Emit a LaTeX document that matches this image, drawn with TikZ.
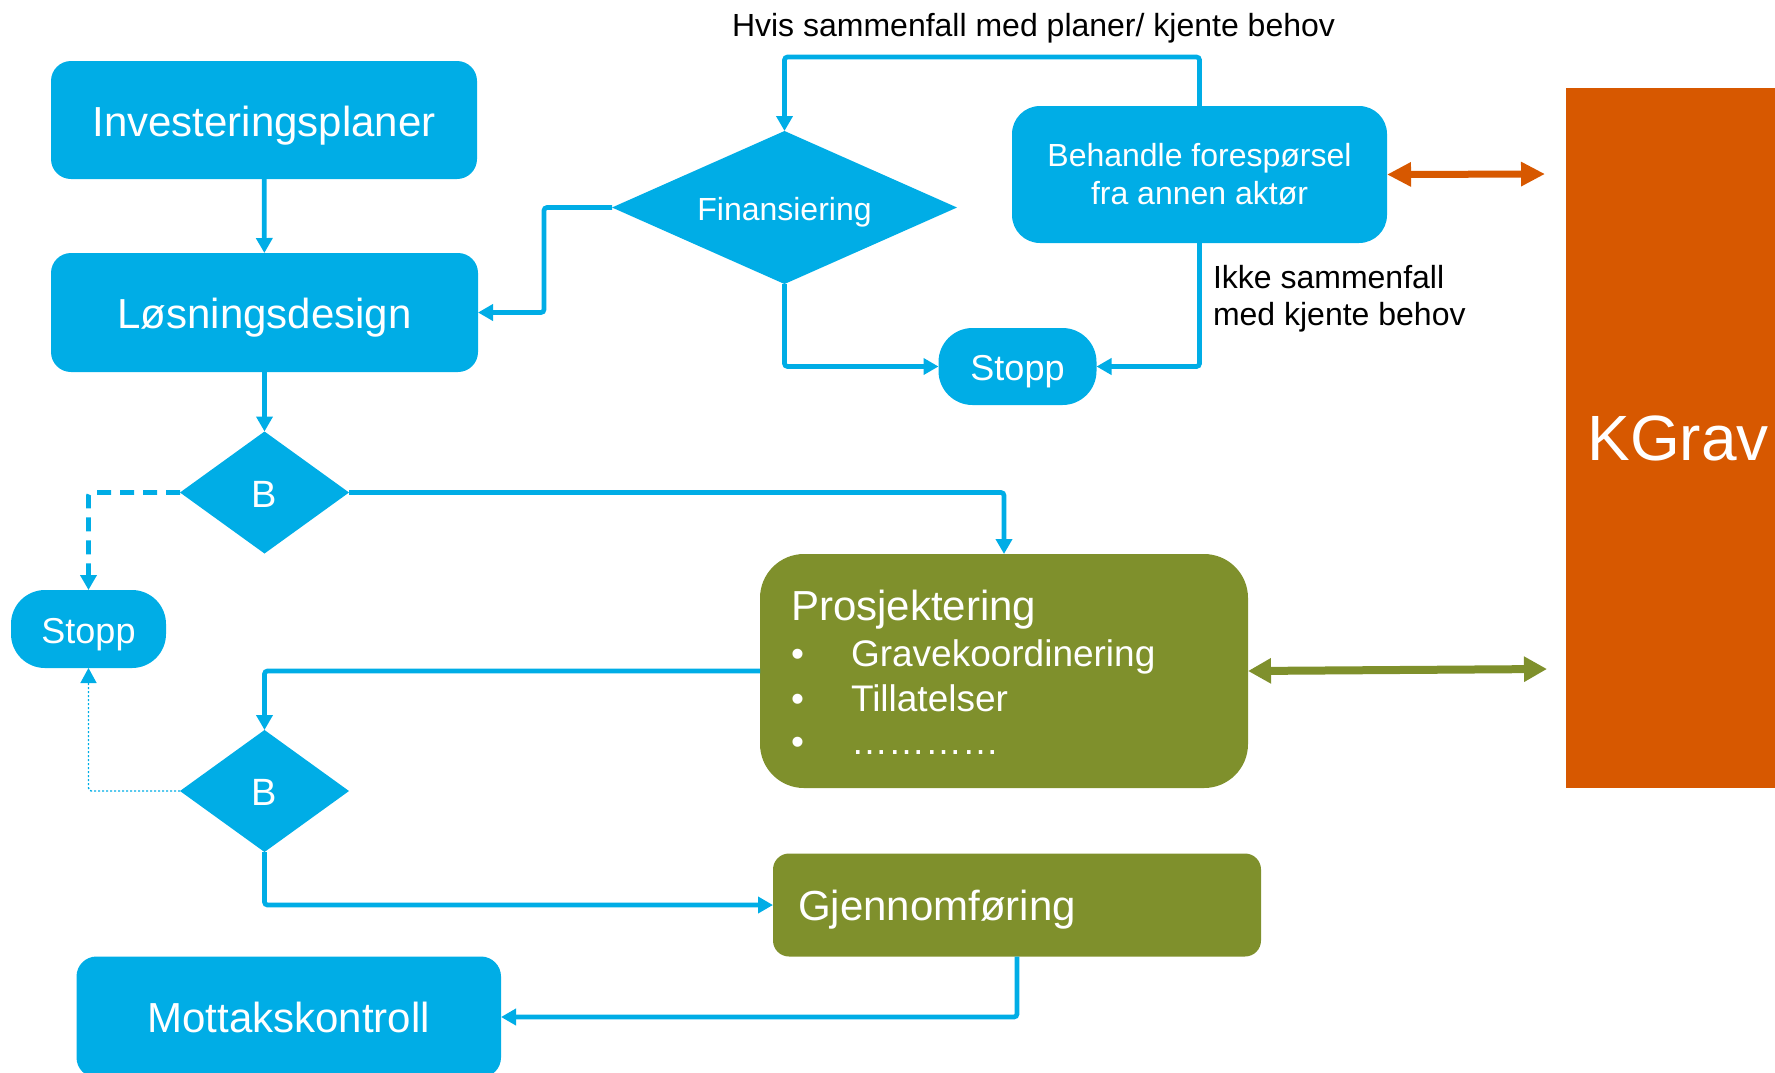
\documentclass[tikz,border=0pt]{standalone}
\usepackage{fontspec}
\setmainfont{Liberation Sans}
\usetikzlibrary{shapes.geometric,arrows.meta}
\definecolor{kblue}{RGB}{0,173,230}
\definecolor{kgreen}{RGB}{127,144,44}
\definecolor{korange}{RGB}{215,88,0}
\begin{document}
\begin{tikzpicture}[x=0.5pt,y=-0.5pt,
  every node/.style={inner sep=0pt, outer sep=0pt},
  bbox/.style={fill=kblue, text=white, align=center},
  gbox/.style={fill=kgreen, text=white},
  dia/.style={diamond, fill=kblue, text=white, inner sep=0pt},
  term/.style={fill=kblue, text=white, rounded corners=17pt, minimum width=79pt, minimum height=38.5pt, font=\fontsize{18pt}{21pt}\selectfont, text height=14pt, text depth=0pt},
  big/.style={font=\fontsize{21pt}{25pt}\selectfont},
  mid/.style={font=\fontsize{16pt}{19pt}\selectfont},
  item/.style={font=\fontsize{18.5pt}{22pt}\selectfont, text=white, anchor=base west},
  conn/.style={draw=kblue, line width=2.35pt, rounded corners=1.5pt, -{Triangle[length=7.5pt,width=8pt]}},
  dconn/.style={conn, dash pattern=on 7pt off 4.5pt},
  tconn/.style={conn, line width=0.7pt, dash pattern=on 1pt off 1pt},
  oarrow/.style={draw=korange, line width=3.5pt, {Triangle[length=12pt,width=11.5pt]}-{Triangle[length=12pt,width=11.5pt]}},
  garrow/.style={draw=kgreen, line width=4pt, {Triangle[length=11.5pt,width=12pt]}-{Triangle[length=11.5pt,width=12pt]}}
]
\useasboundingbox (0,0) rectangle (1775,1072);
\clip (0,0) rectangle (1775,1072);

% boxes
\node[bbox, big, rounded corners=10pt, minimum width=213pt, minimum height=59pt, text height=16.4pt, text depth=0pt] (inv) at (264,120) {Investeringsplaner};
\node[bbox, big, rounded corners=10pt, minimum width=213.5pt, minimum height=59.5pt, text height=16.4pt, text depth=0pt] (los) at (264.5,312.5) {Løsningsdesign};
\node[dia, mid, minimum width=172.5pt, minimum height=76.5pt, aspect=2.25, text height=12.5pt, text depth=0pt] (fin) at (784.5,207.5) {Finansiering};
\node[bbox, mid, rounded corners=14pt, minimum width=187.5pt, minimum height=68.5pt] (beh) at (1199.5,174.5) {Behandle forespørsel\\fra annen aktør};
\node[term] (stop1) at (1017.5,366.5) {Stopp};
\node[dia, minimum width=84.5pt, minimum height=61pt, aspect=1.4, font=\fontsize{19pt}{22pt}\selectfont, text height=14.8pt, text depth=0pt] (b1) at (264.5,492.5) {B};
\node[term, minimum width=77.5pt, minimum height=39pt] (stop2) at (88.5,629) {Stopp};
\node[gbox, rounded corners=22pt, minimum width=244pt, minimum height=117pt] (pro) at (1004,671) {};
\node[dia, minimum width=84.5pt, minimum height=61pt, aspect=1.4, font=\fontsize{19pt}{22pt}\selectfont, text height=14.8pt, text depth=0pt] (b2) at (264.5,791) {B};
\node[gbox, rounded corners=8pt, minimum width=244pt, minimum height=51.5pt] (gje) at (1017,905) {};
\node[bbox, big, rounded corners=10pt, minimum width=212.25pt, minimum height=60.5pt] (mot) at (288.75,1017) {Mottakskontroll};
\node[fill=korange, text=white, minimum width=112pt, minimum height=350pt, font=\fontsize{32pt}{38pt}\selectfont] (kgr) at (1678,438) {KGrav};

% texts inside green boxes
\node[big, text=white, anchor=base west] (ptitle) at (791,620) {Prosjektering};
\node[item] (pb1) at (791,666) {•};
\node[item] (pt1) at (851,666) {Gravekoordinering};
\node[item] (pb2) at (791,711) {•};
\node[item] (pt2) at (851,711) {Tillatelser};
\node[item] (pb3) at (791,754) {•};
\node[item] (pt3) at (851,754) {…………};
\node[big, text=white, anchor=base west] (gtxt) at (798,920) {Gjennomføring};

% labels
\node[mid] (hvis) at (1033.5,28) {Hvis sammenfall med planer/ kjente behov};
\node[font=\fontsize{16pt}{18.5pt}\selectfont, anchor=west, align=left] (ikke) at (1213,299) {Ikke sammenfall\\med kjente behov};

% connector end points
\coordinate (ko1) at (1545,174);
\coordinate (kg1) at (1547,669);

% connectors
\draw[conn] (inv) -- (los);
\draw[conn] (fin.west) -- ++(-68,0) |- (los.east);
\draw[conn] (fin.south) |- (stop1.west);
\draw[conn] (beh.north) -- ++(0,-49) -| (fin.north);
\draw[conn] (beh.south) |- (stop1.east);
\draw[oarrow] (beh.east) -- (ko1);
\draw[conn] (los) -- (b1);
\draw[conn] (b1.east) -| (pro.north);
\draw[dconn] (b1.west) -| (stop2.north);
\draw[conn] (pro.west) -| (b2.north);
\draw[tconn] (b2.west) -| (stop2.south);
\draw[conn] (b2.south) |- (gje.west);
\draw[conn] (gje.south) |- (mot.east);
\draw[garrow] (pro.east) -- (kg1);
\end{tikzpicture}
\end{document}
